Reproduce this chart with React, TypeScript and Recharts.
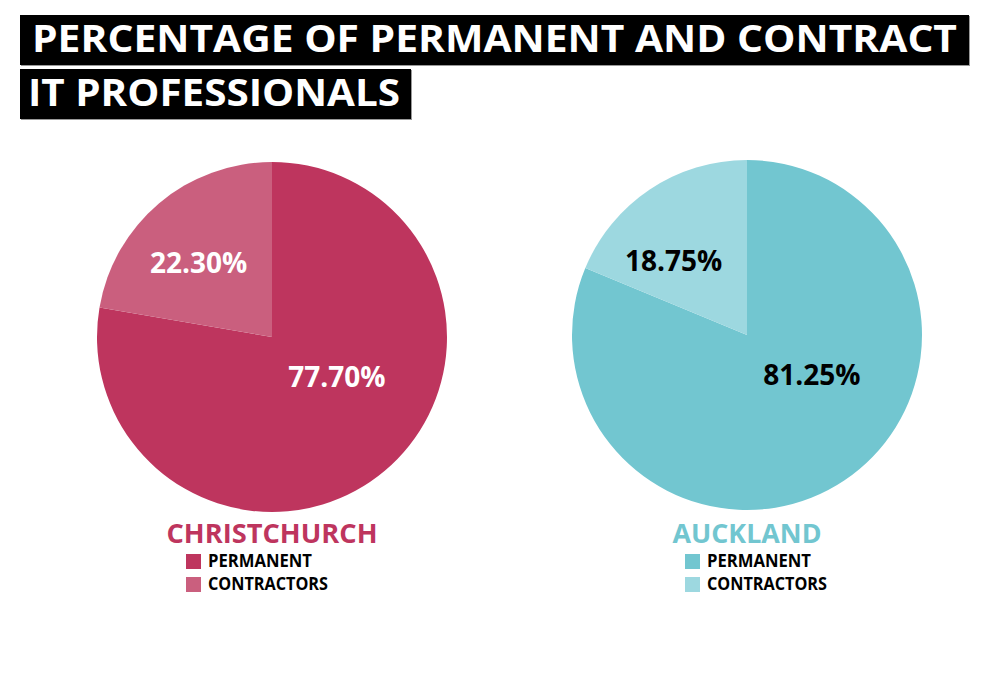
import React from "react";
import { PieChart, Pie, Cell } from "recharts";

const TITLE_LINES = ["PERCENTAGE OF PERMANENT AND CONTRACT", "IT PROFESSIONALS"];
const SEGMENTS = ["PERMANENT", "CONTRACTORS"];
const CITIES = ["CHRISTCHURCH", "AUCKLAND"];
const CHRISTCHURCH_VALUES = [77.7, 22.3];
const AUCKLAND_VALUES = [81.25, 18.75];

const CHCH_COLORS = ["#BE355E", "#CA5F7E"];
const AKL_COLORS = ["#72C6D0", "#9DD8E0"];

const FONT = "'Open Sans', 'DejaVu Sans', sans-serif";

const chchData = SEGMENTS.map((name, i) => ({ name, value: CHRISTCHURCH_VALUES[i] }));
const aklData = SEGMENTS.map((name, i) => ({ name, value: AUCKLAND_VALUES[i] }));

// label placement as fractions of the outer radius (style only)
const LABEL_POS = [
  { fx: 0.37, fy: 0.22 },
  { fx: -0.42, fy: -0.43 },
];

const makeLabel = (color: string) => (props: any) => {
  const { cx, cy, outerRadius, index, value } = props;
  const p = LABEL_POS[index];
  return (
    <text
      x={cx + p.fx * outerRadius}
      y={cy + p.fy * outerRadius}
      fill={color}
      textAnchor="middle"
      dominantBaseline="central"
      fontFamily={FONT}
      fontWeight={700}
      fontSize={28}
    >
      {Number(value).toFixed(2) + "%"}
    </text>
  );
};

export default function App() {
  const legends = [
    { city: CITIES[0], colors: CHCH_COLORS, cx: 272, textLen: 211, sqX: 186 },
    { city: CITIES[1], colors: AKL_COLORS, cx: 747, textLen: 149, sqX: 685 },
  ];
  return (
    <div style={{ position: "absolute", left: 0, top: 0, width: 984, height: 680, background: "#fff" }}>
      <PieChart width={984} height={680} margin={{ top: 0, right: 0, bottom: 0, left: 0 }} style={{ position: "absolute", left: 0, top: 0 }}>
        <Pie
          data={chchData}
          dataKey="value"
          nameKey="name"
          cx={272}
          cy={337}
          outerRadius={175}
          startAngle={90}
          endAngle={-270}
          stroke="none"
          isAnimationActive={false}
          labelLine={false}
          label={makeLabel("#ffffff")}
        >
          {chchData.map((d, i) => (
            <Cell key={d.name} fill={CHCH_COLORS[i]} />
          ))}
        </Pie>
        <Pie
          data={aklData}
          dataKey="value"
          nameKey="name"
          cx={747}
          cy={335}
          outerRadius={175}
          startAngle={90}
          endAngle={-270}
          stroke="none"
          isAnimationActive={false}
          labelLine={false}
          label={makeLabel("#000000")}
        >
          {aklData.map((d, i) => (
            <Cell key={d.name} fill={AKL_COLORS[i]} />
          ))}
        </Pie>
      </PieChart>
      <svg width={984} height={680} style={{ position: "absolute", left: 0, top: 0, pointerEvents: "none" }}>
        <rect x={21} y={16} width={949} height={50} fill="#999" />
        <rect x={20} y={15} width={949} height={50} fill="#000" />
        <rect x={21} y={70} width={391} height={50} fill="#999" />
        <rect x={20} y={69} width={391} height={50} fill="#000" />
        <text x={32} y={52} fill="#fff" fontFamily={FONT} fontWeight={700} fontSize={37} textLength={925} lengthAdjust="spacingAndGlyphs">
          {TITLE_LINES[0]}
        </text>
        <text x={28} y={106} fill="#fff" fontFamily={FONT} fontWeight={700} fontSize={37} textLength={372} lengthAdjust="spacingAndGlyphs">
          {TITLE_LINES[1]}
        </text>
        {legends.map((l) => (
          <g key={l.city}>
            <text
              x={l.cx}
              y={543}
              fill={l.colors[0]}
              textAnchor="middle"
              fontFamily={FONT}
              fontWeight={700}
              fontSize={26}
              textLength={l.textLen}
              lengthAdjust="spacingAndGlyphs"
            >
              {l.city}
            </text>
            {SEGMENTS.map((s, i) => (
              <g key={s}>
                <rect x={l.sqX} y={554 + i * 23} width={15} height={15} fill={l.colors[i]} />
                <text x={l.sqX + 22} y={567 + i * 23} fill="#000" fontFamily={FONT} fontWeight={700} fontSize={17} textLength={i === 0 ? 104 : 120} lengthAdjust="spacingAndGlyphs">
                  {s}
                </text>
              </g>
            ))}
          </g>
        ))}
      </svg>
    </div>
  );
}
